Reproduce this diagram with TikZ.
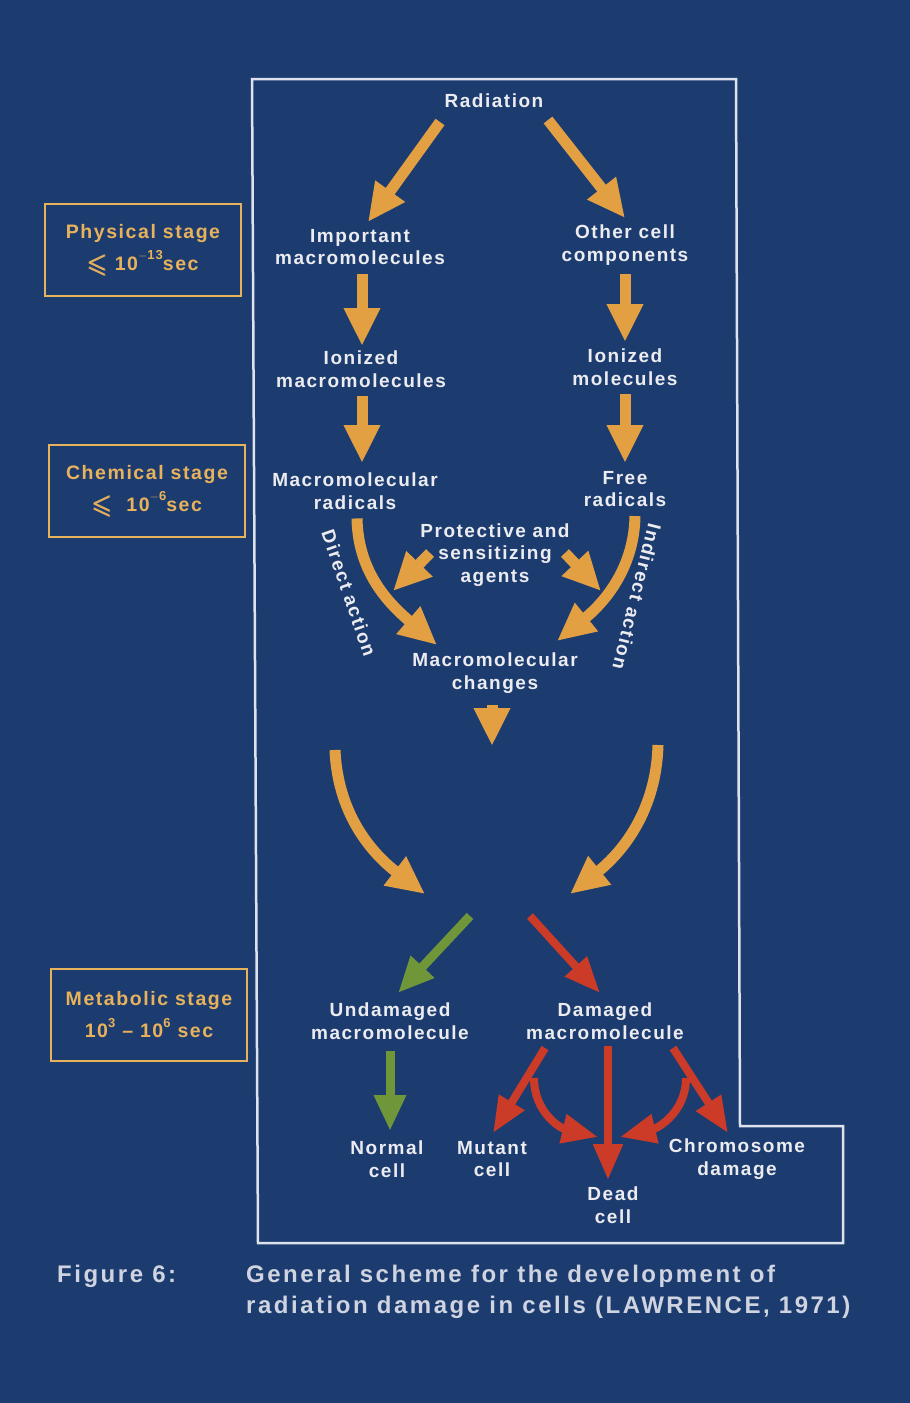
\documentclass[tikz,border=0pt]{standalone}
\usepackage{amsmath}
\usepackage{amssymb}
\usepackage{graphicx}
\usepackage{fontspec}
\setmainfont{Liberation Sans}
\newfontfamily\lblfont{Liberation Sans}[LetterSpace=8]
\newfontfamily\capfont{Liberation Sans}[LetterSpace=10.5]
\usetikzlibrary{arrows.meta}
\definecolor{bgblue}{RGB}{28,60,112}
\definecolor{txtwhite}{RGB}{236,236,240}
\definecolor{arrorange}{RGB}{226,160,66}
\definecolor{stageorange}{RGB}{232,178,92}
\definecolor{arrgreen}{RGB}{112,150,58}
\definecolor{arrred}{RGB}{204,58,40}
\definecolor{framewhite}{RGB}{222,226,236}
\definecolor{captgray}{RGB}{208,212,224}
\newcommand{\supnum}[1]{\raisebox{0.55em}{\fontsize{13}{13}\selectfont #1}}
\newcommand{\bigleq}{\raisebox{-0.1em}{\scalebox{1.35}{\pmb{$\leqslant$}}}}
\tikzset{
  lbl/.style={text=txtwhite, align=center, inner sep=0pt,
    font=\lblfont\bfseries\fontsize{19}{22.5}\selectfont},
  stagebox/.style={draw=stageorange, line width=2.5pt, text=stageorange,
    minimum width=196pt, minimum height=92pt, align=center, inner sep=0pt,
    font=\lblfont\bfseries\fontsize{19.5}{36}\selectfont},
  oarrow/.style={draw=arrorange, line width=11pt,
    -{Triangle[width=34pt,length=38pt]}},
  garrow/.style={draw=arrgreen, line width=9pt,
    -{Triangle[width=30pt,length=36pt]}},
  rarrow/.style={draw=arrred, line width=8pt,
    -{Triangle[width=28pt,length=36pt]}},
  captxt/.style={text=captgray, anchor=west, inner sep=0pt,
    font=\capfont\bfseries\fontsize{24}{31}\selectfont}
}
\begin{document}
\begin{tikzpicture}[x=1pt,y=-1pt]
\useasboundingbox (0,0) rectangle (910,1403);
\fill[bgblue] (0,0) rectangle (910,1403);
% main frame
\draw[framewhite, line width=2.5pt] (252,79) -- (736,79) -- (740,1126) -- (843,1126)
  -- (843,1243) -- (258,1243) -- cycle;
% stage boxes
\node[stagebox] (phys) at (143,250) {Physical stage\\[-4pt]\bigleq\ 10\supnum{$-$13}sec};
\node[stagebox] (chem) at (147,491) {Chemical stage\\[-4pt]\bigleq\ \ 10\supnum{$-$6}sec};
\node[stagebox] (meta) at (149,1015) {Metabolic stage\\[-4pt]10\supnum{3} – 10\supnum{6} sec};
% nodes
\node[lbl] (rad) at (494,101) {Radiation};
\node[lbl] (imp) at (360,247) {Important\\macromolecules};
\node[lbl] (oth) at (625,245) {Other cell\\components};
\node[lbl] (ionm) at (361,369) {Ionized\\macromolecules};
\node[lbl] (ion) at (625,367) {Ionized\\molecules};
\node[lbl] (mrad) at (355,491) {Macromolecular\\radicals};
\node[lbl] (frad) at (625,489) {Free\\radicals};
\node[lbl] (prot) at (495,555) {Protective and\\sensitizing\\agents};
\node[lbl] (mch) at (495,673) {Macromolecular\\changes};
\node[lbl] (und) at (390,1021) {Undamaged\\macromolecule};
\node[lbl] (dam) at (605,1021) {Damaged\\macromolecule};
\node[lbl] (norm) at (387,1159) {Normal\\cell};
\node[lbl] (mut) at (492,1159) {Mutant\\cell};
\node[lbl] (dead) at (613,1205) {Dead\\cell};
\node[lbl] (chr) at (737,1159) {Chromosome\\damage};
\node[lbl, rotate=-71] (dir) at (349,593) {Direct action};
\node[lbl, rotate=-104] (ind) at (637,597) {Indirect action};
% coordinates for arrow ends
\coordinate (c1s) at (440,122); \coordinate (c1e) at (368,222);
\coordinate (c2s) at (548,120); \coordinate (c2e) at (625,218);
\coordinate (midL) at (335,750); \coordinate (midR) at (658,745);
\coordinate (dL) at (545,1048); \coordinate (dM) at (608,1046); \coordinate (dR) at (673,1048);
% orange arrows
\draw[oarrow] (c1s) -- (c1e);
\draw[oarrow] (c2s) -- (c2e);
\draw[oarrow] ([xshift=2pt,yshift=-9pt]imp.south) -- (362,346);
\draw[oarrow] ([yshift=-9pt]oth.south) -- (625,342);
\draw[oarrow] ([xshift=1pt,yshift=-9pt]ionm.south) -- (362,463);
\draw[oarrow] ([yshift=-9pt]ion.south) -- (625,463);
\draw[oarrow] ([xshift=2pt,yshift=-9pt]mrad.south) .. controls (358,575) and (392,606) .. (437,645);
\draw[oarrow] ([xshift=10pt,yshift=-9pt]frad.south) .. controls (634,572) and (600,606) .. (557,641);
\draw[oarrow] (430,553) -- (393,591);
\draw[oarrow] (565,553) -- (601,591);
\draw[oarrow] ([xshift=-3pt,yshift=-12pt]mch.south) -- (492,746);
\draw[oarrow] (midL) .. controls (338,820) and (378,858) .. (425,894);
\draw[oarrow] (midR) .. controls (656,818) and (615,858) .. (570,894);
% green and red
\draw[garrow] (470,916) -- (398,993);
\draw[rarrow] (530,916) -- (600,993);
\draw[garrow] ([yshift=-12pt]und.south) -- (390,1131);
\draw[rarrow] (dL) -- (493,1133);
\draw[rarrow] (534,1078) .. controls (534,1112) and (560,1128) .. (598,1137);
\draw[rarrow] (dM) -- (608,1180);
\draw[rarrow] (686,1078) .. controls (686,1112) and (658,1128) .. (620,1137);
\draw[rarrow] (dR) -- (728,1133);
% caption
\node[captxt] (fig) at (57,1276) {Figure 6:};
\node[captxt] (cap1) at (246,1276) {General scheme for the development of};
\node[captxt] (cap2) at (246,1307) {radiation damage in cells (LAWRENCE, 1971)};
\end{tikzpicture}
\end{document}
